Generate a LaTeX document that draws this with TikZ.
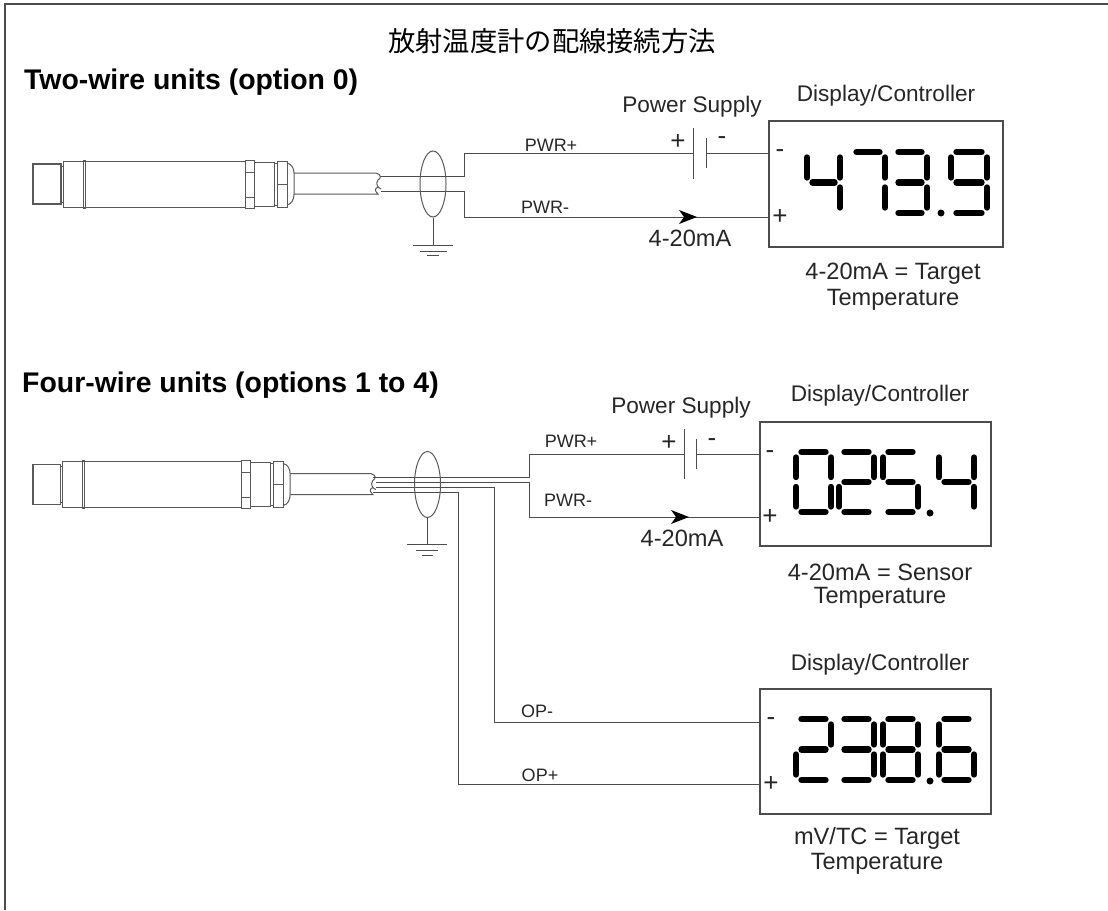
\documentclass[tikz,border=0pt]{standalone}
\usepackage{fontspec}
\setmainfont{Liberation Sans}
\newfontfamily\cjk{Noto Sans CJK JP}
\usetikzlibrary{shapes.geometric}

% sizes are given in px of the picture
\tikzset{
  wire/.style={draw=black!70, line width=0.9pt},
  outline/.style={draw=black!65, line width=1pt},
  panel/.style={draw=black!70, line width=1.2pt, minimum width=#1, inner sep=0pt},
  seg/.style={line width=6.4pt, line cap=round, black},
  label/.style={font=\fontsize{22.6}{24}\selectfont, text=black!85, inner sep=0pt},
  caption/.style={font=\fontsize{23.6}{26}\selectfont, text=black!85, inner sep=0pt},
  sign/.style={font=\fontsize{26}{26}\selectfont, text=black!85, inner sep=0pt},
  small/.style={font=\fontsize{18}{20}\selectfont, text=black!85, inner sep=0pt},
  heading/.style={font=\fontsize{28.4}{30}\selectfont\bfseries, anchor=west, inner sep=0pt},
}

% seven segment digit: \digit{x}{y}{width}{height}{segments}
\newcommand{\digit}[5]{%
  \begin{scope}[shift={(#1,#2)}]
    \def\w{#3}\def\h{#4}
    \pgfmathsetmacro{\hm}{\h/2}
    \foreach \s in {#5} {
      \ifcase\s
        \draw[seg] (5.5,0) -- (\w-5.5,0);         % 0 top
      \or \draw[seg] (\w,5.5) -- (\w,\hm-5);      % 1 upper right
      \or \draw[seg] (\w,\hm+5) -- (\w,\h-5.5);   % 2 lower right
      \or \draw[seg] (5.5,\h) -- (\w-5.5,\h);     % 3 bottom
      \or \draw[seg] (0,\hm+5) -- (0,\h-5.5);     % 4 lower left
      \or \draw[seg] (0,5.5) -- (0,\hm-5);        % 5 upper left
      \or \draw[seg] (5.5,\hm) -- (\w-5.5,\hm);   % 6 middle
      \fi
    }
  \end{scope}
}

% sensor body: \sensor{x shift}{y centre}{x scale}
\newcommand{\sensor}[3]{%
  \begin{scope}[shift={(#1,#2)}, xscale=#3]
    \draw[outline, line width=1.4pt] (0,-20) rectangle (28,20);
    \draw[outline] (28,-18) rectangle (30,18);
    \draw[outline] (30,-23) rectangle (212,23);
    \draw[outline] (50,-24) rectangle (52,24);
    \draw[outline] (212,-24) rectangle (221,24);
    \draw[outline] (212,-12) -- (221,-12) (212,13) -- (221,13);
    \draw[outline] (221,-22) rectangle (241,22);
    \draw[outline] (241,-21) rectangle (244,21);
    \draw[outline] (244,-23) rectangle (254,23);
    \draw[outline] (244,0) -- (254,0);
    \draw[outline] (254,-21) .. controls (259,-20) and (261,-15) .. (261,-11)
      -- (261,10) .. controls (261,15) and (259,20) .. (254,21);
    % cable with torn end
    \draw[outline] (261,-11) -- (343,-11) .. controls (349,-9) and (348,-6) .. (345,-4)
      .. controls (342,0) and (345,4) .. (348,5);
    \draw[outline] (261,10) -- (345,10) .. controls (342,7) and (341,5) .. (345,3);
  \end{scope}
}

\begin{document}
\begin{tikzpicture}[x=1pt, y=-1pt]
  \useasboundingbox (0,0) rectangle (1108,910);

  % frame
  \draw[draw=black!70, line width=1.6pt] (5,910) -- (5,4) -- (1108,4);

  % title and headings
  \node[font=\fontsize{27.3}{30}\selectfont\cjk, inner sep=0pt] (title) at (552,41) {放射温度計の配線接続方法};
  \node[heading] (headTwo) at (24,82) {Two-wire units (option 0)};
  \node[heading] (headFour) at (22,385) {Four-wire units (options 1 to 4)};

  % ---- two wire unit ----
  \sensor{33}{184}{1}
  \node[panel=234pt, minimum height=126pt] (dispA) at (886,184) {};

  \coordinate (aTop) at (380,176);
  \coordinate (aTopUp) at (464,153);
  \coordinate (aPlus) at (693,153);
  \coordinate (aMinus) at (706,153);
  \coordinate (aBot) at (381,191);
  \coordinate (aBotDown) at (464,217);
  \draw[wire] (aTop) -| (aTopUp) -- (aPlus);
  \draw[wire] (aMinus) -- (aMinus -| dispA.west);
  \draw[wire] (aBot) -| (aBotDown) -- (aBotDown -| dispA.west);

  % battery
  \draw[wire] (693,128) -- (693,179);
  \draw[wire] (706,138) -- (706,168);
  \fill[black] (697,217) -- (679,210) -- (684,217) -- (679,224) -- cycle;

  % shield and ground
  \node[outline, ellipse, minimum width=26pt, minimum height=66pt, inner sep=0pt] (shieldA) at (433,184) {};
  \coordinate (gndA) at (433,245);
  \draw[wire] (shieldA.south) -- (gndA);
  \draw[wire] (413,245) -- (453,245) (420,251) -- (447,251) (427,255) -- (439,255);

  % labels
  \node[small] (pwrPA) at (551,145) {PWR+};
  \node[small] (pwrMA) at (545,207) {PWR-};
  \node[caption] (ampA) at (690,238) {4-20mA};
  \node[label] (supplyA) at (692,107) {Power Supply};
  \node[label] (ctrlA) at (886,96) {Display/Controller};
  \node[sign] (plusA) at (678,142) {+};
  \node[sign] (minusA) at (722,141) {-};
  \node[sign] (dminusA) at (780,154) {-};
  \node[sign] (dplusA) at (780,217) {+};
  \node[caption] (capA) at (893,274) {4-20mA = Target};
  \node[caption] (capAb) at (893,300) {Temperature};

  % 473.9
  \digit{807}{152}{33}{61}{1,2,5,6}
  \digit{851}{152}{34}{61}{0,1,2}
  \digit{893}{152}{34}{61}{0,1,2,3,6}
  \fill (941,213) circle (3.5);
  \digit{951}{152}{36}{61}{0,1,2,3,5,6}

  % ---- four wire unit ----
  \sensor{33}{484.5}{0.985}
  \node[panel=231pt, minimum height=124pt] (dispB) at (875.5,484) {};
  \node[panel=231pt, minimum height=125pt] (dispC) at (875.5,751.5) {};

  \coordinate (bOne) at (373,477);
  \coordinate (bTwo) at (376,482);
  \coordinate (bThree) at (376,487);
  \coordinate (bFour) at (373,492);
  \coordinate (bTopUp) at (529,454);
  \coordinate (bBotDown) at (529,517);
  \coordinate (bPlus) at (684,454);
  \coordinate (bMinus) at (696,454);
  \coordinate (cMinus) at (494,722);
  \coordinate (cPlus) at (458,784);
  \draw[wire] (bOne) -| (bTopUp) -- (bPlus);
  \draw[wire] (bMinus) -- (bMinus -| dispB.west);
  \draw[wire] (bTwo) -| (bBotDown) -- (bBotDown -| dispB.west);
  \draw[wire] (bThree) -| (cMinus) -- (cMinus -| dispC.west);
  \draw[wire] (bFour) -| (cPlus) -- (cPlus -| dispC.west);

  % battery
  \draw[wire] (684,429) -- (684,479);
  \draw[wire] (696,439) -- (696,469);
  \fill[black] (689,517) -- (671,510) -- (676,517) -- (671,524) -- cycle;

  % shield and ground
  \node[outline, ellipse, minimum width=26pt, minimum height=66pt, inner sep=0pt] (shieldB) at (427.5,484.5) {};
  \coordinate (gndB) at (427.5,544);
  \draw[wire] (shieldB.south) -- (gndB);
  \draw[wire] (407,544) -- (447,544) (416,550) -- (438,550) (422,555) -- (433,555);

  % labels
  \node[small] (pwrPB) at (571,441) {PWR+};
  \node[small] (pwrMB) at (568,500) {PWR-};
  \node[small] (opM) at (537,711) {OP-};
  \node[small] (opP) at (540,775) {OP+};
  \node[caption] (ampB) at (682,538) {4-20mA};
  \node[label] (supplyB) at (681,408) {Power Supply};
  \node[label] (ctrlB) at (880,396) {Display/Controller};
  \node[label] (ctrlC) at (880,665) {Display/Controller};
  \node[sign] (plusB) at (669,443) {+};
  \node[sign] (minusB) at (712,443) {-};
  \node[sign] (dminusB) at (770,455) {-};
  \node[sign] (dplusB) at (770,517) {+};
  \node[sign] (dminusC) at (771,722) {-};
  \node[sign] (dplusC) at (771,784) {+};
  \node[caption] (capB) at (880,572) {4-20mA = Sensor};
  \node[caption] (capBb) at (880,598) {Temperature};
  \node[caption] (capC) at (877,838) {mV/TC = Target};
  \node[caption] (capCb) at (877,864) {Temperature};

  % 025.4
  \digit{796}{452}{35}{60}{0,1,2,3,4,5}
  \digit{839}{452}{35}{60}{0,1,3,4,6}
  \digit{883}{452}{35}{60}{0,2,3,5,6}
  \fill (930,513) circle (3.5);
  \digit{939}{452}{35}{60}{1,2,5,6}

  % 238.6
  \digit{796}{719}{35}{61}{0,1,3,4,6}
  \digit{839}{719}{35}{61}{0,1,2,3,6}
  \digit{883}{719}{35}{61}{0,1,2,3,4,5,6}
  \fill (930,781) circle (3.5);
  \digit{939}{719}{35}{61}{0,2,3,4,5,6}
\end{tikzpicture}
\end{document}
